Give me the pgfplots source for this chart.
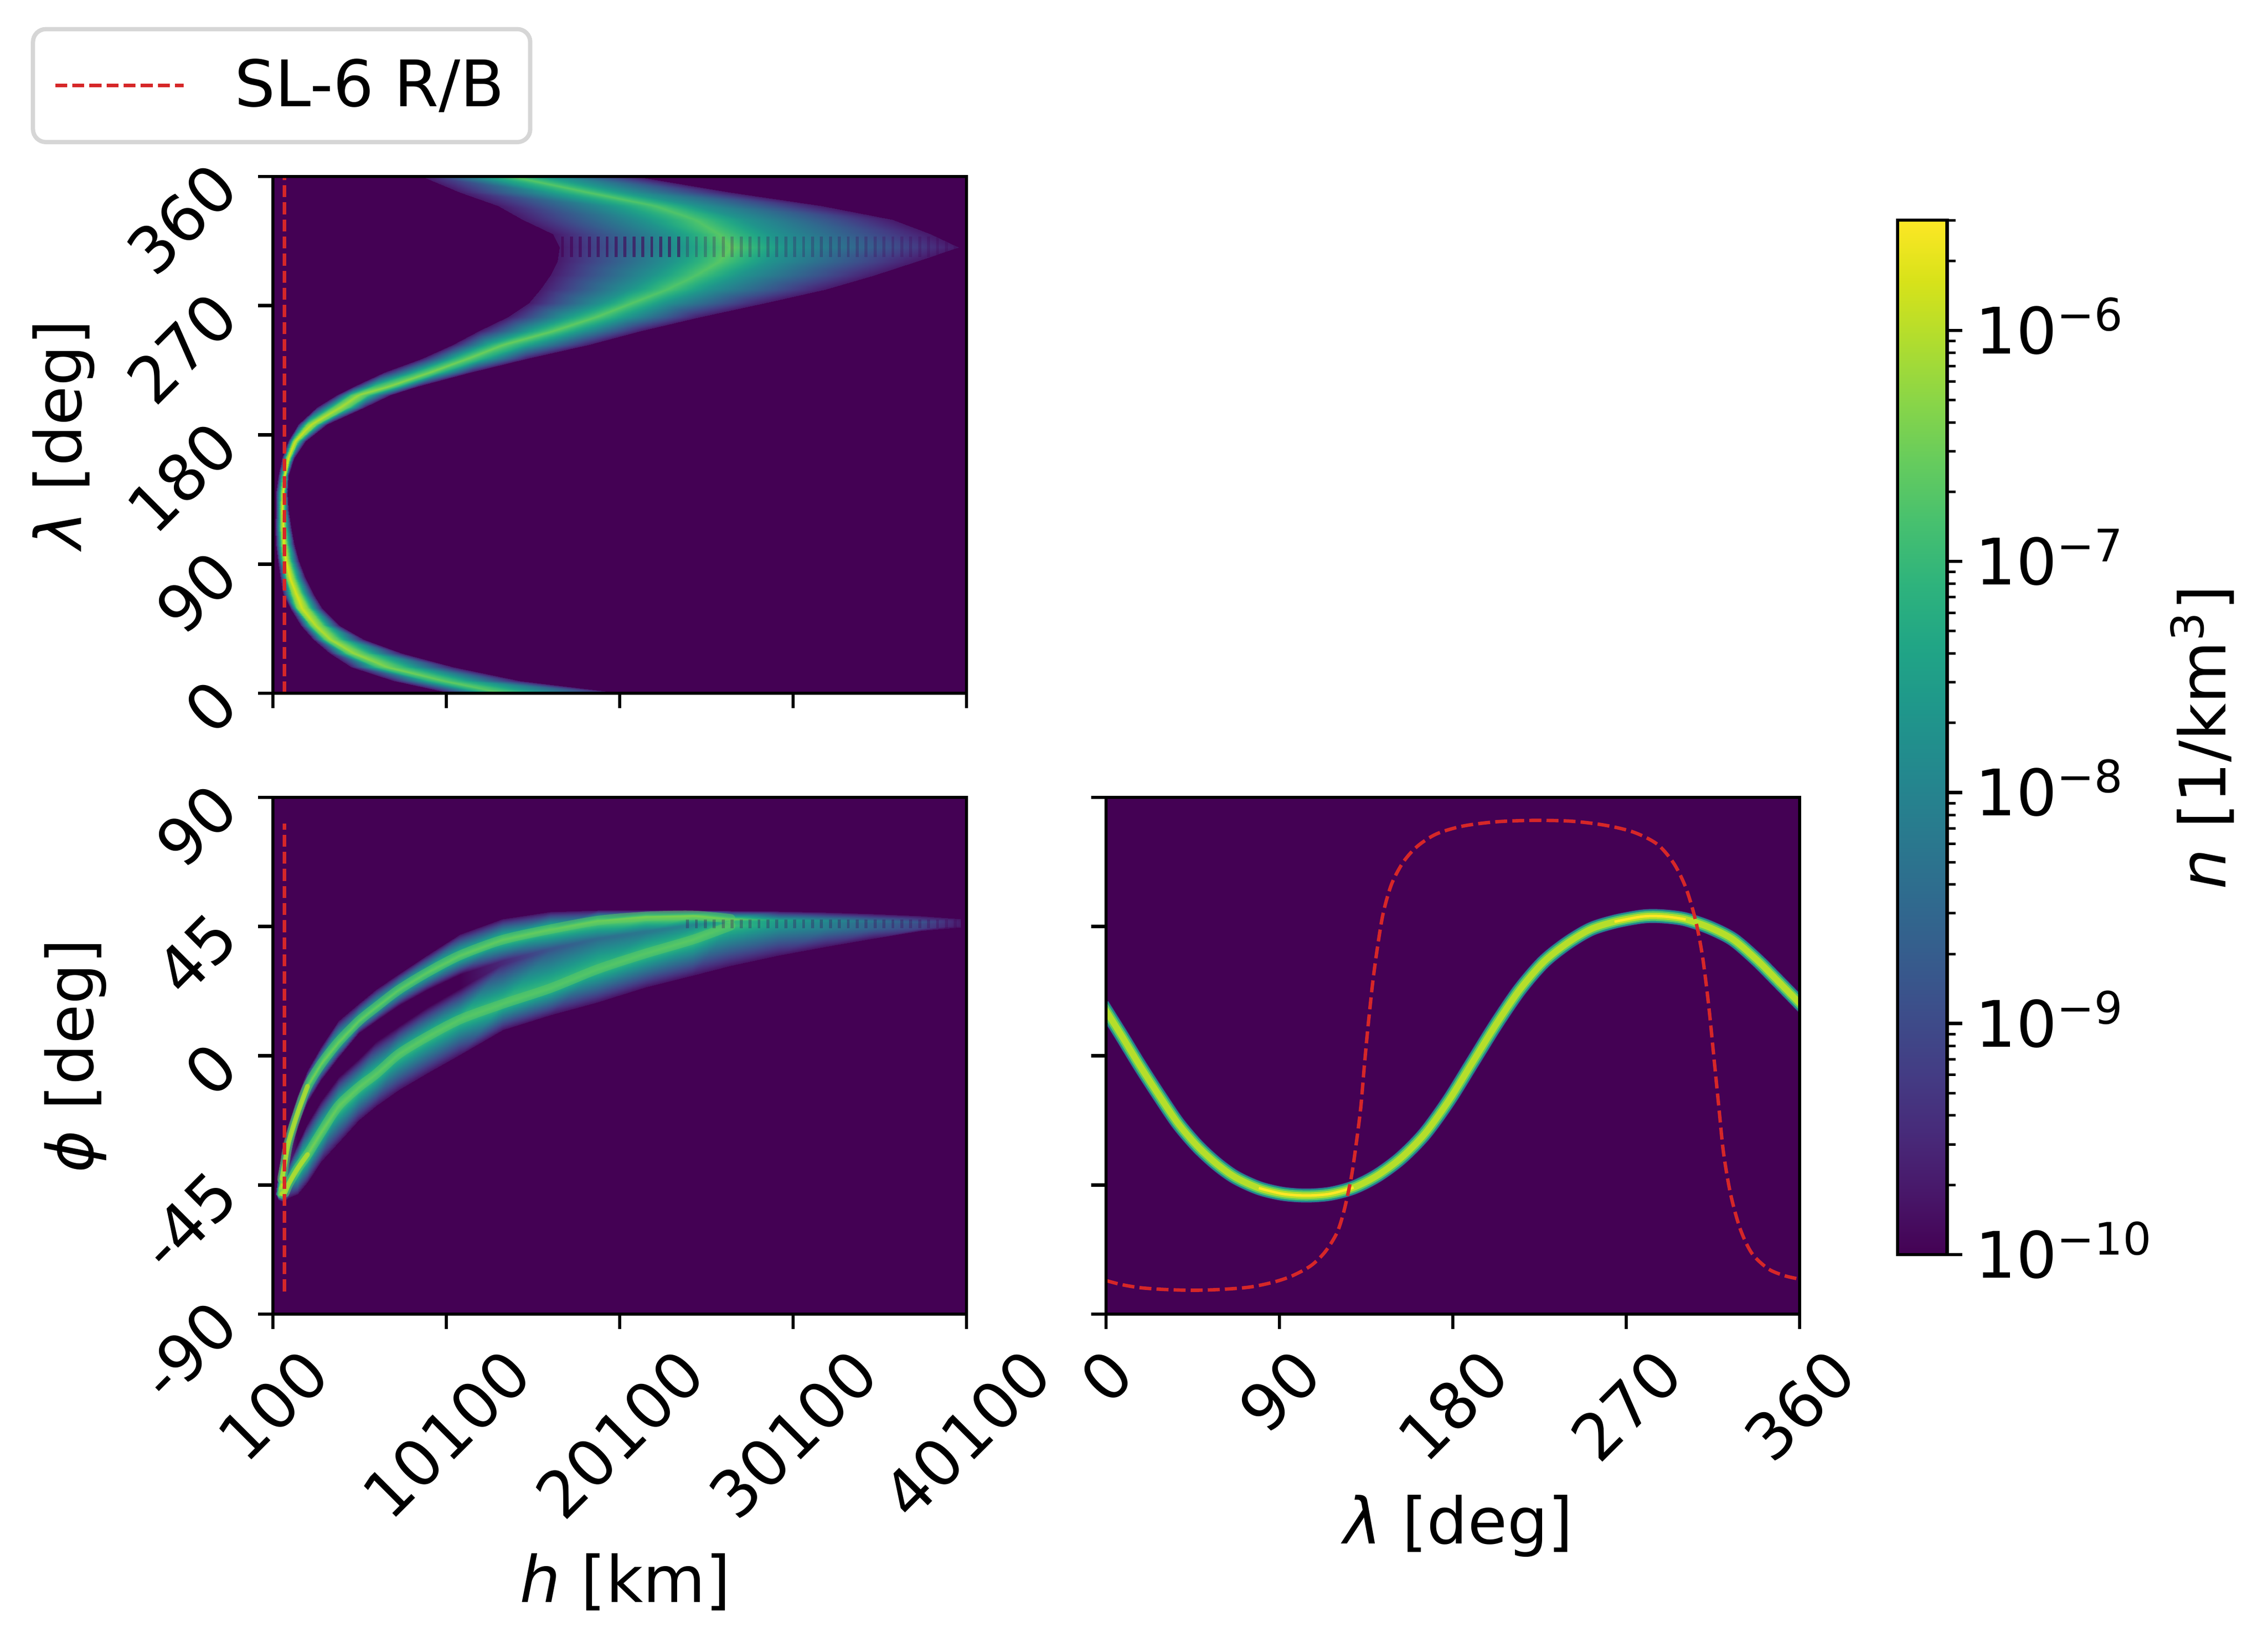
\documentclass[border=0pt]{standalone}
\usepackage{graphicx}
\usepackage{fontspec}
\setmainfont{DejaVu Sans}
\usepackage{pgfplots}
\usepackage{pgfplotstable}
\pgfplotsset{compat=1.18}

\definecolor{vir0}{HTML}{440154}
\definecolor{vir1}{HTML}{3B528B}
\definecolor{vir2}{HTML}{21918C}
\definecolor{vir3}{HTML}{5EC962}
\definecolor{vir4}{HTML}{B5DE2B}
\definecolor{vir5}{HTML}{FDE725}
\definecolor{tabred}{HTML}{D62728}

\newcommand\fs{\fontsize{15.06}{18}\selectfont}
\newcommand\rot[1]{\rotatebox{45}{#1}}
\newcommand\pow[1]{10\smash{\raisebox{5.4bp}{\fontsize{10.5}{12}\selectfont −#1}}}

\pgfplotsset{
  panel/.style={
    scale only axis, width=162.24bp, height=120.84bp,
    axis background/.style={fill=vir0},
    axis on top,
    axis line style={line width=0.8bp},
    every tick/.style={black, line width=0.8bp},
    tick align=outside, major tick length=3.5bp,
    xtick pos=bottom, ytick pos=left,
    scaled ticks=false,
    colormap/viridis, point meta min=-10, point meta max=-5.523,
    every tick label/.append style={font=\fs},
    xticklabel style={anchor=north, inner sep=0pt, yshift=-3.5bp},
    yticklabel style={anchor=north east, inner sep=0pt, xshift=-3.5bp, yshift=4.4bp},
    label style={font=\fs},
  },
  rb/.style={tabred, line width=0.8bp, dash pattern=on 2.8bp off 1.2bp},
  den/.style={surf, shader=interp, point meta=explicit},
  stripe/.style={draw=none, no markers, forget plot},
}

% lambda, phi of the density ridge in the lambda-phi panel
\pgfplotstableread{
l p
0 15.7
7.9 7.2
17.7 -3.6
27.6 -13.9
37.4 -23.6
47.3 -31.4
57.1 -37.5
67 -42.3
79.3 -46.1
91.6 -48.1
103.9 -48.7
116.2 -48.1
128.5 -45.9
140.8 -41.7
153.1 -35.6
165.4 -27.2
177.8 -15.7
190.1 -2.4
202.4 10.9
214.7 23
227 32.6
239.3 39.2
251.6 44.1
263.9 46.7
276.2 48.3
283.6 48.7
292 48.4
300.9 47.5
313.2 44.7
325.5 40.5
337.8 33.4
347.6 26.8
360 18.3
}\ridge

% SL-6 R/B track
\pgfplotstableread{
l p
0 -78.3
7.9 -79.7
17.7 -80.8
30 -81.4
44.8 -81.7
59.6 -81.4
74.4 -80.6
86.7 -78.9
96.5 -76.7
106.4 -73.1
113.7 -68.3
119.9 -61.6
123.6 -53.8
127.3 -42.3
129.7 -31.4
132.2 -18.1
133.9 -4.8
135.9 9.7
138.4 25.4
140.8 37.4
143.8 49.5
148.2 59.8
154.4 67.6
161.8 73.1
171.6 77.3
185.1 80
202.4 81.5
222.1 82
241.8 81.7
259 80.3
273.8 77.9
286.1 73.7
294.7 67
300.9 58.6
305.8 47.7
309.5 35
312.7 18.1
315.6 -1.2
318.1 -18.1
320.5 -33.8
324.2 -48.3
329.2 -60.4
335.3 -68.9
343.9 -74.3
352.6 -76.7
360 -77.8
}\track

% fringes where the band turns back: h, lambda, phi
\pgfplotstableread{
h l p
16800 311 46
17315 311 46
17830 311 46
18345 311 46
18860 311 46
19375 311 46
19890 311 46
20405 311 46
20920 311 46
21435 311 46
21950 311 46
22465 311 46
22980 311 46
23495 311 46
24010 311 46
24525 311 46
25040 311 46
25555 311 46
26070 311 46
26585 311 46
27100 311 46
27615 311 46
28130 311 46
28645 311 46
29160 311 46
29675 311 46
30190 311 46
30705 311 46
31220 311 46
31735 311 46
32250 311 46
32765 311 46
33280 311 46
33795 311 46
34310 311 46
34825 311 46
35340 311 46
35855 311 46
36370 311 46
36885 311 46
37400 311 46
37915 311 46
38430 311 46
38945 311 46
39460 311 46
}\fringe

% ridges of the two arms in the h-phi panel
\pgfplotstableread{
h p
619 -42.9
784 -37.5
1002 -30.2
1522 -20.05
2097 -10.6
2890 -2.8
3875 4.83
5052 12.1
6037 16.9
7350 22.95
8992 29
10907 35.03
13369 40.46
16105 44.09
18841 47.11
21577 48.56
24313 48.92
26502 47.71
}\armup
\pgfplotstableread{
h p
619 -48.1
784 -47.7
1002 -44.7
1522 -39.3
2097 -34.4
2890 -26.6
3875 -17.5
5052 -10.9
6037 -6.4
7350 0.6
8992 6.64
10907 12.7
13369 18.1
16105 23.55
18841 30.2
21577 35.6
24313 40.46
26502 45.3
}\armlo

\begin{document}
\begin{tikzpicture}
\path[use as bounding box] (0,0) rectangle (530.52bp,384bp);

% h - lambda
\begin{axis}[panel, at={(63.84bp,221.88bp)}, anchor=south west,
  xmin=100, xmax=40100, ymin=0, ymax=360,
  xtick={100,10100,20100,30100,40100}, xticklabels={},
  ytick={0,90,180,270,360},
  yticklabels={\rot{0},\rot{90},\rot{180},\rot{270},\rot{360}},
  ylabel={\textit{λ} [deg]},
  y label style={at={(axis description cs:-0.302,0.5)}, anchor=center},
  legend image code/.code={\draw[#1] (1.2bp,0) -- (31.2bp,0); \path[draw=none] (0,0) -- (41.2bp,0);},
  legend cell align=left,
  legend style={at={(-0.349,1.0625)}, anchor=south west, font=\fs,
    draw=black!16, line width=1bp, rounded corners=3bp, fill=white,
    inner xsep=4bp, inner ysep=4.9bp},
]
\addplot[den, forget plot, mesh/rows=36, mesh/cols=5] coordinates {
(10360,0)[-9.7] (12466,0)[-7.3] (13369,0)[-6.7] (15079,0)[-7.3] (20209,0)[-9.7]
(7076,8.5)[-9.7] (9087,8.5)[-7.2] (9949,8.5)[-6.6] (11044,8.5)[-7.2] (14327,8.5)[-9.7]
(4614,18.1)[-9.7] (6050,18.1)[-7] (6666,18.1)[-6.4] (7624,18.1)[-7] (10496,18.1)[-9.7]
(3383,27.8)[-9.7] (4341,27.8)[-6.8] (4751,27.8)[-6.2] (5435,27.8)[-6.8] (7487,27.8)[-9.7]
(2425,37.4)[-9.7] (3096,37.4)[-6.7] (3383,37.4)[-6.1] (3862,37.4)[-6.7] (5298,37.4)[-9.7]
(1741,47.1)[-9.7] (2300,47.1)[-6.6] (2562,47.1)[-6] (2960,47.1)[-6.6] (3930,47.1)[-9.7]
(1112,59.2)[-9.7] (1480,59.2)[-6.4] (1750,59.2)[-5.85] (2100,59.2)[-6.4] (2900,59.2)[-9.7]
(682,69.5)[-9.7] (1200,69.5)[-6.4] (1422,69.5)[-5.8] (1669,69.5)[-6.4] (2409,69.5)[-9.7]
(534,80.2)[-9.7] (914,80.2)[-6.4] (1077,80.2)[-5.75] (1299,80.2)[-6.4] (1965,80.2)[-9.7]
(386,92.2)[-9.7] (697,92.2)[-6.4] (830,92.2)[-5.7] (1015,92.2)[-6.4] (1570,92.2)[-9.7]
(288,104)[-9.7] (599,104)[-6.4] (732,104)[-5.7] (880,104)[-6.4] (1324,104)[-9.7]
(258,116)[-9.7] (555,116)[-6.4] (682,116)[-5.65] (793,116)[-6.4] (1126,116)[-9.7]
(288,128)[-9.7] (530,128)[-6.4] (633,128)[-5.65] (719,128)[-6.4] (978,128)[-9.7]
(288,139.8)[-9.7] (564,139.8)[-6.4] (682,139.8)[-5.65] (744,139.8)[-6.4] (929,139.8)[-9.7]
(436,151.7)[-9.7] (678,151.7)[-6.4] (781,151.7)[-5.7] (830,151.7)[-6.4] (978,151.7)[-9.7]
(633,163.7)[-9.7] (874,163.7)[-6.4] (978,163.7)[-5.75] (1064,163.7)[-6.4] (1324,163.7)[-9.7]
(978,175.5)[-9.7] (1254,175.5)[-6.4] (1373,175.5)[-5.85] (1521,175.5)[-6.4] (1965,175.5)[-9.7]
(1570,187.4)[-9.7] (2050,187.4)[-6.5] (2310,187.4)[-5.95] (2620,187.4)[-6.5] (3200,187.4)[-9.7]
(2650,199.3)[-9.7] (3550,199.3)[-6.7] (3988,199.3)[-6.1] (4450,199.3)[-6.7] (5369,199.3)[-9.7]
(3800,207.7)[-9.7] (4600,207.7)[-6.8] (5000,207.7)[-6.2] (5550,207.7)[-6.8] (6850,207.7)[-9.7]
(4800,213.8)[-9.7] (5900,213.8)[-7] (6800,213.8)[-6.3] (7300,213.8)[-7] (8444,213.8)[-9.7]
(6529,223.5)[-9.7] (8348,223.5)[-7.1] (9128,223.5)[-6.4] (9710,223.5)[-7.1] (11454,223.5)[-9.7]
(8718,233.1)[-9.7] (10537,233.1)[-7.2] (11317,233.1)[-6.5] (12172,233.1)[-7.2] (14737,233.1)[-9.7]
(10496,242.8)[-9.7] (12507,242.8)[-7.3] (13369,242.8)[-6.55] (14600,242.8)[-7.3] (18294,242.8)[-9.7]
(12001,252.5)[-9.7] (14970,252.5)[-7.4] (16242,252.5)[-6.6] (17508,252.5)[-7.4] (21304,252.5)[-9.7]
(13643,262.1)[-9.7] (17186,262.1)[-7.5] (18704,262.1)[-6.65] (20209,262.1)[-7.5] (24724,262.1)[-9.7]
(14874,271.8)[-9.7] (18991,271.8)[-7.7] (20756,271.8)[-6.7] (22671,271.8)[-7.7] (28417,271.8)[-9.7]
(15558,281.5)[-9.7] (20633,281.5)[-7.7] (22808,281.5)[-6.75] (25100,281.5)[-7.7] (31974,281.5)[-9.7]
(16105,291.1)[-9.7] (21947,291.1)[-7.7] (24450,291.1)[-6.75] (27015,291.1)[-7.7] (34710,291.1)[-9.7]
(16516,300.8)[-9.7] (23027,300.8)[-7.7] (25818,300.8)[-6.7] (28657,300.8)[-7.7] (37172,300.8)[-9.7]
(16652,310.5)[-9.7] (23547,310.5)[-7.7] (26502,310.5)[-6.6] (29785,310.5)[-7.7] (39635,310.5)[-9.7]
(16242,320.1)[-9.7] (23091,320.1)[-7.7] (25818,320.1)[-6.7] (28862,320.1)[-7.7] (37993,320.1)[-9.7]
(14511,329.8)[-9.7] (21468,329.8)[-7.7] (24450,329.8)[-6.75] (27288,329.8)[-7.7] (35804,329.8)[-9.7]
(13096,339.5)[-9.7] (19416,339.5)[-7.7] (22124,339.5)[-6.75] (24518,339.5)[-7.7] (31700,339.5)[-9.7]
(10907,349.1)[-9.7] (16078,349.1)[-7.6] (18294,349.1)[-6.7] (20346,349.1)[-7.6] (26502,349.1)[-9.7]
(8718,360)[-9.7] (12357,360)[-7.5] (13916,360)[-6.7] (15695,360)[-7.5] (21030,360)[-9.7]
};
\addplot[stripe, restrict x to domain=16000:24000,
  error bars/.cd, y dir=both, y fixed=7, error mark=none,
  error bar style={vir0, opacity=0.6, line width=0.7bp}]
  table[x=h, y=l] {\fringe};
\addplot[stripe, restrict x to domain=24000:40000,
  error bars/.cd, y dir=both, y fixed=7, error mark=none,
  error bar style={vir0, opacity=0.25, line width=0.7bp}]
  table[x=h, y=l] {\fringe};
\addplot[rb] coordinates {(770,0) (770,360)};
\addlegendentry{SL-6 R/B}
\end{axis}

% h - phi
\begin{axis}[panel, at={(63.84bp,76.68bp)}, anchor=south west,
  xmin=100, xmax=40100, ymin=-90, ymax=90,
  xtick={100,10100,20100,30100,40100},
  xticklabels={\rot{100},\rot{10100},\rot{20100},\rot{30100},\rot{40100}},
  ytick={-90,-45,0,45,90},
  yticklabels={\rot{-90},\rot{-45},\rot{0},\rot{45},\rot{90}},
  xlabel={\textit{h} [km]},
  x label style={at={(axis description cs:0.508,-0.519)}, anchor=center},
  ylabel={\textit{ϕ} [deg]},
  y label style={at={(axis description cs:-0.285,0.5)}, anchor=center},
]
\addplot[den, mesh/rows=25, mesh/cols=6] coordinates {
(291,-48.1)[-10] (291,-48.3)[-9] (291,-48.3)[-9] (291,-48.3)[-9] (291,-48.3)[-9] (291,-48.6)[-10]
(428,-40.35)[-9.8] (428,-46.5)[-6.5] (428,-47.7)[-6.5] (428,-48.1)[-6.5] (428,-48.6)[-6.3] (428,-50.1)[-9.8]
(619,-33.2)[-9.8] (619,-42.9)[-5.8] (619,-45.9)[-5.8] (619,-46.5)[-5.8] (619,-48.1)[-5.6] (619,-50.7)[-9.8]
(784,-29.2)[-9.8] (784,-37.5)[-5.8] (784,-42.3)[-7] (784,-42.9)[-7] (784,-47.7)[-5.7] (784,-50.5)[-9.8]
(1002,-23.9)[-9.8] (1002,-30.2)[-5.9] (1002,-34.4)[-8.5] (1002,-38.4)[-9.5] (1002,-44.7)[-5.9] (1002,-49.5)[-9.8]
(1522,-14.1)[-9.8] (1522,-20.05)[-6.1] (1522,-24.8)[-10] (1522,-30.8)[-10] (1522,-39.3)[-6.1] (1522,-48.1)[-9.8]
(2097,-5.44)[-9.8] (2097,-10.6)[-6.2] (2097,-16.3)[-10] (2097,-23.6)[-10] (2097,-34.4)[-6.25] (2097,-44)[-9.8]
(2890,2.9)[-9.8] (2890,-2.8)[-6.3] (2890,-8.46)[-10] (2890,-15.7)[-10] (2890,-26.6)[-6.35] (2890,-36.8)[-9.8]
(3875,12.1)[-9.8] (3875,4.83)[-6.4] (3875,-0.6)[-10] (3875,-7.5)[-10] (3875,-17.5)[-6.5] (3875,-30.2)[-9.8]
(5052,18)[-9.8] (5052,12.1)[-6.5] (5052,7.85)[-10] (5052,-1.1)[-10] (5052,-10.9)[-6.6] (5052,-22.5)[-9.8]
(6037,22.95)[-9.8] (6037,16.9)[-6.55] (6037,12.1)[-10] (6037,4.95)[-10] (6037,-6.4)[-6.65] (6037,-17.5)[-9.8]
(7350,28.4)[-9.8] (7350,22.95)[-6.6] (7350,17.5)[-10] (7350,10.26)[-10] (7350,0.6)[-6.7] (7350,-11.8)[-9.8]
(8992,35.03)[-9.8] (8992,29)[-6.6] (8992,22.95)[-10] (8992,16.9)[-10] (8992,6.64)[-6.7] (8992,-6.04)[-9.8]
(10907,42.27)[-9.8] (10907,35.03)[-6.6] (10907,28.4)[-10] (10907,23.55)[-10] (10907,12.7)[-6.75] (10907,0.48)[-9.8]
(13369,47.71)[-9.8] (13369,40.46)[-6.55] (13369,33.2)[-9.5] (13369,32)[-9.5] (13369,18.1)[-6.75] (13369,9.06)[-9.8]
(16105,50.13)[-9.8] (16105,44.09)[-6.5] (16105,37.44)[-8.8] (16105,36.8)[-8.8] (16105,23.55)[-6.8] (16105,14.25)[-9.8]
(18841,50.61)[-9.8] (18841,47.11)[-6.4] (18841,41.07)[-8.4] (18841,40.46)[-8.4] (18841,30.2)[-6.8] (18841,18.7)[-9.8]
(21577,50.73)[-9.8] (21577,48.56)[-6.2] (21577,43.48)[-8.2] (21577,42.9)[-8.2] (21577,35.6)[-6.75] (21577,23.9)[-9.8]
(24313,50.61)[-9.8] (24313,48.92)[-6.15] (24313,45.9)[-7.9] (24313,45.3)[-7.9] (24313,40.46)[-6.7] (24313,28)[-9.8]
(26502,50.49)[-9.8] (26502,47.71)[-6.4] (26502,46.87)[-7] (26502,46.5)[-7] (26502,45.3)[-6.9] (26502,31.4)[-9.8]
(29238,50.25)[-9.8] (29238,47.35)[-7.4] (29238,46.87)[-7.5] (29238,46.26)[-7.6] (29238,44.7)[-7.7] (29238,35.03)[-9.8]
(31974,49.89)[-9.8] (31974,47.11)[-7.8] (31974,46.75)[-7.9] (31974,46.14)[-8] (31974,44.45)[-8.1] (31974,38.05)[-9.8]
(34710,49.4)[-9.8] (34710,46.87)[-8.3] (34710,46.62)[-8.4] (34710,46.14)[-8.5] (34710,44.45)[-8.6] (34710,40.83)[-9.8]
(37446,48.8)[-9.8] (37446,46.62)[-8.8] (37446,46.38)[-8.9] (37446,45.9)[-9] (37446,44.45)[-9.1] (37446,43.48)[-9.8]
(39772,47.71)[-9.8] (39772,46.5)[-9.7] (39772,46.14)[-9.7] (39772,45.9)[-9.7] (39772,45.3)[-9.7] (39772,44.7)[-9.8]
};
\addplot[vir3, opacity=0.5, line width=2.2bp, smooth, line cap=round] table[x=h, y=p] {\armup};
\addplot[vir3, opacity=0.5, line width=2.2bp, smooth, line cap=round] table[x=h, y=p] {\armlo};
\addplot[vir4, opacity=0.8, line width=1.1bp, smooth, line cap=round] coordinates {(619,-42.9) (784,-37.5) (1002,-30.2) (1522,-20.05) (2097,-10.6)};
\addplot[vir4, opacity=0.8, line width=1.1bp, smooth, line cap=round] coordinates {(619,-48.1) (784,-47.7) (1002,-44.7) (1522,-39.3) (2097,-34.4)};
\addplot[stripe, restrict x to domain=24000:40000,
  error bars/.cd, y dir=both, y fixed=1.5, error mark=none,
  error bar style={vir0, opacity=0.3, line width=0.7bp}]
  table[x=h, y=p] {\fringe};
\addplot[rb] coordinates {(770,-82.1) (770,80.9)};
\end{axis}

% lambda - phi
\begin{axis}[panel, at={(258.72bp,76.68bp)}, anchor=south west,
  xmin=0, xmax=360, ymin=-90, ymax=90,
  xtick={0,90,180,270,360},
  xticklabels={\rot{0},\rot{90},\rot{180},\rot{270},\rot{360}},
  ytick={-90,-45,0,45,90}, yticklabels={},
  xlabel={\textit{λ} [deg]},
  x label style={at={(axis description cs:0.508,-0.41)}, anchor=center},
]
\addplot[vir1, line width=3.3bp, smooth, line cap=rect] table[x=l, y=p] {\ridge};
\addplot[vir2, line width=3bp, smooth, line cap=rect] table[x=l, y=p] {\ridge};
\addplot[vir3, line width=2.3bp, smooth, line cap=rect] table[x=l, y=p] {\ridge};
\addplot[vir4, line width=1.5bp, smooth, line cap=rect] table[x=l, y=p] {\ridge};
\addplot[vir5, line width=0.6bp, smooth] coordinates {(79.3,-46.1) (91.6,-48.1) (103.9,-48.7) (116.2,-48.1) (128.5,-45.9)};
\addplot[vir5, line width=0.6bp, smooth] coordinates {(263.9,46.7) (276.2,48.3) (283.6,48.7) (292,48.4) (300.9,47.5)};
\addplot[rb, smooth] table[x=l, y=p] {\track};
\end{axis}

% colour bar
\begin{axis}[panel, at={(443.88bp,90.6bp)}, anchor=south west,
  width=11.58bp, height=241.92bp,
  xmin=0, xmax=1, ymode=log, ymin=1e-10, ymax=3e-6,
  xtick=\empty, ytick pos=right, yticklabel pos=right,
  ytick={1e-10,1e-9,1e-8,1e-7,1e-6},
  yticklabels={\pow{10},\pow{9},\pow{8},\pow{7},\pow{6}},
  yticklabel style={anchor=west, inner sep=0pt, xshift=6.4bp, yshift=-4.4bp},
  minor ytick={2e-10,3e-10,4e-10,5e-10,6e-10,7e-10,8e-10,9e-10,
    2e-9,3e-9,4e-9,5e-9,6e-9,7e-9,8e-9,9e-9,
    2e-8,3e-8,4e-8,5e-8,6e-8,7e-8,8e-8,9e-8,
    2e-7,3e-7,4e-7,5e-7,6e-7,7e-7,8e-7,9e-7,2e-6,3e-6},
  minor tick length=2bp,
  every minor tick/.style={black, line width=0.6bp},
  ylabel={\textit{n} [1/km\textsuperscript{3}]},
  y label style={at={(axis description cs:6.15,0.5)}, anchor=center},
]
\addplot[den, mesh/rows=2, mesh/cols=2] coordinates {
(0,1e-10)[-10] (1,1e-10)[-10]
(0,3e-6)[-5.523] (1,3e-6)[-5.523]
};
\end{axis}
\end{tikzpicture}
\end{document}
